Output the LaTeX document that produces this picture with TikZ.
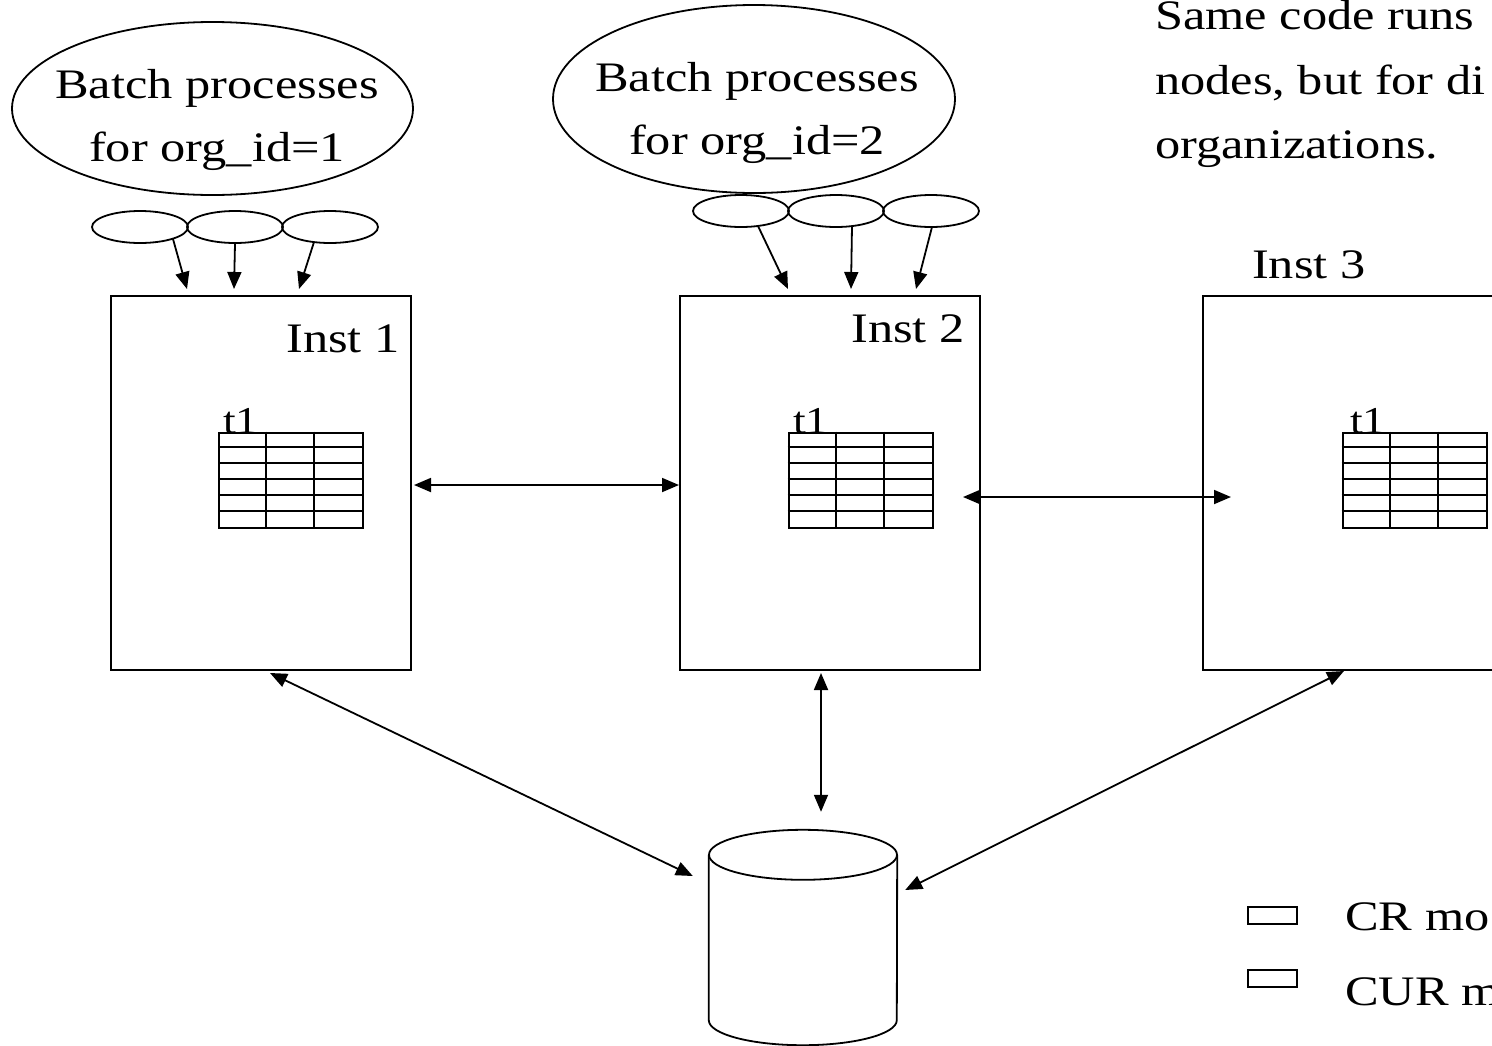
\documentclass[tikz,border=0pt]{standalone}
\usepackage{fontspec}
\setmainfont[FakeStretch=1.2]{Liberation Serif}
\usetikzlibrary{arrows.meta,calc,shapes.geometric}

% draws the inner grid of a 3x6 table node
\newcommand\tablegrid[1]{%
  \foreach \k in {1,...,5}
    \draw[gridline] ($(#1.north west)+(0,15.8*\k)$) -- ++(144,0);
  \foreach \k in {48,96}
    \draw[gridline] ($(#1.north west)+(\k,0)$) -- ++(0,95);
}

\begin{document}
\begin{tikzpicture}[x=1pt,y=-1pt,
  box/.style={draw, line width=2pt, minimum width=300pt, minimum height=374pt, inner sep=0pt},
  blob/.style={draw, ellipse, line width=1.8pt, inner sep=0pt},
  job/.style={draw, ellipse, line width=1.8pt, minimum width=96pt, minimum height=32pt, inner sep=0pt},
  tbl/.style={draw, line width=2pt, minimum width=144pt, minimum height=95pt, inner sep=0pt},
  gridline/.style={line width=2pt},
  lbl/.style={font=\fontsize{42}{63}\selectfont, inner sep=0pt},
  tlbl/.style={font=\fontsize{38}{40}\selectfont, inner sep=0pt, anchor=base west},
  legbox/.style={draw, line width=2pt, minimum width=49pt, minimum height=17pt, inner sep=0pt},
  tip/.tip={Triangle[length=17pt,width=14pt]},
  feed/.style={line width=1.8pt, -tip},
  link/.style={line width=1.8pt, tip-tip},
]
\useasboundingbox (0,0) rectangle (1492,1045);
\clip (0,0) rectangle (1492,1045);

% batch process groups
\node[blob, minimum width=401pt, minimum height=173pt] (org1) at (212.5,108.5) {};
\node[lbl, anchor=base] (org1a) at (217,98) {Batch processes};
\node[lbl, anchor=base] (org1b) at (217,161) {for org\_id=1};

\node[blob, minimum width=402pt, minimum height=188pt] (org2) at (754,99) {};
\node[lbl, anchor=base] (org2a) at (757,91) {Batch processes};
\node[lbl, anchor=base] (org2b) at (757,154) {for org\_id=2};

% note
\node[lbl, anchor=base west] (note1) at (1155,29) {Same code runs};
\node[lbl, anchor=base west] (note2) at (1155,94) {nodes, but for di};
\node[lbl, anchor=base west] (note3) at (1155,158) {organizations.};

% jobs
\node[job] (j11) at (140,227) {};
\node[job] (j12) at (235,227) {};
\node[job] (j13) at (330,227) {};
\node[job] (j21) at (741,211) {};
\node[job] (j22) at (836,211) {};
\node[job] (j23) at (931,211) {};

% instances
\node[box] (box1) at (261,483) {};
\node[box] (box2) at (830,483) {};
\node[box] (box3) at (1353,483) {};
\node[lbl, anchor=base east] (inst1) at (400,352) {Inst 1};
\node[lbl, anchor=base east] (inst2) at (965,342) {Inst 2};
\node[lbl, anchor=base west] (inst3) at (1252,278) {Inst 3};

% tables
\node[tbl] (tab1) at (291,480) {};
\node[tbl] (tab2) at (860.5,480) {};
\node[tbl] (tab3) at (1414.5,480) {};
\tablegrid{tab1}
\tablegrid{tab2}
\tablegrid{tab3}
\node[tlbl] (t1a) at (223,433) {t1};
\node[tlbl] (t1b) at (793,433) {t1};
\node[tlbl] (t1c) at (1350,433) {t1};

% shared storage
\node[minimum width=188pt, minimum height=215pt, inner sep=0pt] (db) at (803,937.5) {};
\draw[line width=1.8pt] ($(db.north)+(0,25)$) ellipse [x radius=94pt, y radius=25pt];
\draw[line width=1.8pt] ($(db.north west)+(0,25)$) -- ($(db.south west)+(0,-25)$)
  arc[start angle=180, end angle=360, x radius=94pt, y radius=25pt]
  -- ($(db.north east)+(0,25)$);

% job submissions
\draw[feed] ($(j11.center)+(33,12)$) -- ($(box1.north west)+(77,-6)$);
\draw[feed] (j12.south) -- ($(box1.north west)+(124,-6)$);
\draw[feed] ($(j13.center)+(-16,15)$) -- ($(box1.north west)+(189,-6)$);
\draw[feed] ($(j21.center)+(17,15)$) -- ($(box2.north west)+(109,-6)$);
\draw[feed] ($(j22.center)+(16,15)$) -- ($(box2.north west)+(172,-6)$);
\draw[feed] ($(j23.center)+(1,16)$) -- ($(box2.north west)+(237,-6)$);

% interconnect
\draw[link] ($(box1.east)+(2,2)$) -- ($(box2.west)+(0,2)$);
\draw[link] ($(box2.east)+(-18,14)$) -- ($(box3.west)+(29,14)$);
\draw[link] ($(box1.south)+(9,2)$) -- ($(db.west)+(-16,-61.5)$);
\draw[link] ($(box2.south)+(-9,2)$) -- ($(db.north)+(18,-18)$);
\draw[link] ($(box3.south west)+(142,0)$) -- ($(db.east)+(8,-47.5)$);

% legend
\node[legbox] (lg1) at (1272.5,915.5) {};
\node[legbox] (lg2) at (1272.5,978.5) {};
\node[lbl, anchor=base west] (lgt1) at (1345,930) {CR mo};
\node[lbl, anchor=base west] (lgt2) at (1345,1005) {CUR m};
\end{tikzpicture}
\end{document}
